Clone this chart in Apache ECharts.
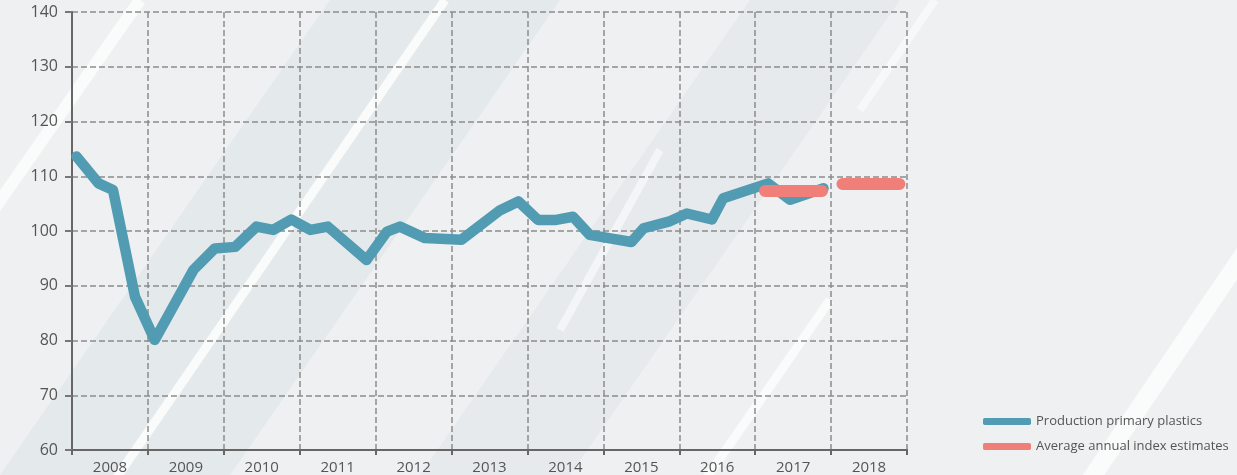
<!DOCTYPE html>
<html>
<head>
<meta charset="utf-8">
<script src="https://cdn.jsdelivr.net/npm/echarts@6/dist/echarts.min.js"></script>
<style>
  html, body {margin: 0; padding: 0; background: #eef0f1;}
  #chart {width: 1237px; height: 475px;}
</style>
</head>
<body>
<div id="chart"></div>
<script>
// years shown under the x axis
const years = ['2008', '2009', '2010', '2011', '2012', '2013', '2014', '2015', '2016', '2017', '2018'];
const yTicks = [60, 70, 80, 90, 100, 110, 120, 130, 140];

// production index (period as fractional year)
const prodPeriods = [2008.06, 2008.35, 2008.54, 2008.83, 2009.09, 2009.60, 2009.88, 2010.15, 2010.43, 2010.65,
    2010.89, 2011.14, 2011.37, 2011.88, 2012.15, 2012.32, 2012.65, 2013.13, 2013.64, 2013.88,
    2014.14, 2014.36, 2014.60, 2014.82, 2015.37, 2015.53, 2015.86, 2016.10, 2016.43, 2016.58,
    2017.17, 2017.46, 2017.90];
const prodValues = [113.6, 108.7, 107.5, 88.0, 80.1, 92.9, 96.8, 97.1, 100.8, 100.2,
    102.1, 100.2, 100.8, 94.7, 99.9, 100.8, 98.7, 98.4, 103.8, 105.4,
    102.0, 102.0, 102.6, 99.3, 98.0, 100.5, 101.7, 103.2, 102.1, 106.0,
    108.7, 105.7, 107.8];

// average annual estimates (start, end, value; null breaks the line)
const estPeriods = [2017.13, 2017.88, null, 2018.15, 2018.90];
const estValues = [107.3, 107.3, null, 108.6, 108.6];

const chart = echarts.init(document.getElementById('chart'));
const font = 'Open Sans';

// soft diagonal light streaks in the backdrop
const streak = (x0, y0, x1, y1, w, a) => ({
    type: 'line', silent: true, z: -10,
    shape: {x1: x0, y1: y0, x2: x1, y2: y1},
    style: {stroke: 'rgba(255,255,255,' + a + ')', lineWidth: w}
});
const bgStripes = [
    {type: 'polygon', silent: true, z: -11,
        shape: {points: [[0, 475], [330, 0], [560, 0], [230, 475]]},
        style: {fill: 'rgba(215,224,228,0.45)'}},
    {type: 'polygon', silent: true, z: -11,
        shape: {points: [[420, 475], [750, 0], [900, 0], [570, 475]]},
        style: {fill: 'rgba(215,224,228,0.35)'}},
    streak(-10, 215, 140, 0, 12, 0.7),
    streak(115, 480, 445, 0, 9, 0.8),
    streak(560, 330, 660, 150, 8, 0.5),
    streak(705, 480, 830, 300, 9, 0.7),
    streak(1090, 480, 1260, 230, 18, 0.7),
    streak(860, 110, 935, 0, 8, 0.5)
];

chart.setOption({
    backgroundColor: '#eef0f1',
    animation: false,
    graphic: bgStripes,
    grid: {left: 72, right: 330, top: 12, bottom: 25},
    legend: {
        orient: 'vertical',
        left: 978,
        top: 410,
        itemWidth: 48,
        itemHeight: 7,
        itemGap: 12,
        icon: 'roundRect',
        textStyle: {color: '#555', fontSize: 13, fontFamily: font},
        data: ['Production primary plastics', 'Average annual index estimates']
    },
    xAxis: [
        {
            type: 'value',
            min: 2008,
            max: 2019,
            interval: 1,
            axisLine: {lineStyle: {color: '#666', width: 2}},
            axisTick: {show: true, length: 5, lineStyle: {color: '#666', width: 2}},
            axisLabel: {show: false},
            splitLine: {show: true, lineStyle: {color: '#8c8c8c', width: 1.5, type: [6, 3]}}
        },
        {
            type: 'category',
            position: 'bottom',
            data: years,
            boundaryGap: true,
            axisLine: {show: false},
            axisTick: {show: false},
            axisLabel: {color: '#555', fontSize: 15, fontFamily: font, margin: 10},
            splitLine: {show: false}
        }
    ],
    yAxis: {
        type: 'value',
        min: yTicks[0],
        max: yTicks[yTicks.length - 1],
        interval: 10,
        axisLine: {show: true, lineStyle: {color: '#666', width: 2}},
        axisTick: {show: true, length: 7, lineStyle: {color: '#777', width: 2}},
        axisLabel: {color: '#555', fontSize: 16, fontFamily: font, margin: 14},
        splitLine: {show: true, lineStyle: {color: '#8c8c8c', width: 1.5, type: [6, 3]}}
    },
    series: [
        {
            name: 'Production primary plastics',
            type: 'line',
            xAxisIndex: 0,
            data: prodPeriods.map((p, i) => [p, prodValues[i]]),
            symbol: 'none',
            color: '#529cb3',
            lineStyle: {width: 10.5, cap: 'round', join: 'round'},
            z: 3
        },
        {
            name: 'Average annual index estimates',
            type: 'line',
            xAxisIndex: 0,
            data: estPeriods.map((p, i) => p === null ? '-' : [p, estValues[i]]),
            symbol: 'none',
            connectNulls: false,
            color: '#f07f7a',
            lineStyle: {width: 12, cap: 'round'},
            z: 4
        }
    ]
});
</script>
</body>
</html>
